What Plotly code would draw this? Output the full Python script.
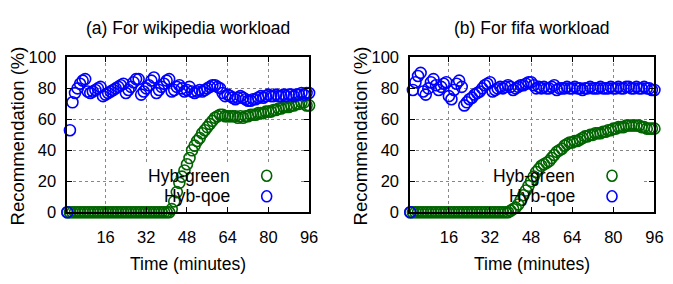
import plotly.graph_objects as go

# ---------------- data ----------------
minutes = list(range(1, 97))

wiki_green = [0]*40 + [
    0, 2, 7, 13, 19, 23, 27, 31, 35, 40,
    43, 46, 48, 51, 53, 55, 57, 59, 61, 62,
    63, 63, 62, 62, 62, 62, 62, 61, 62, 61,
    62, 62, 63, 63, 63, 64, 64, 64, 65, 65,
    65, 66, 66, 67, 67, 68, 68, 68, 69, 69,
    70, 70, 71, 71, 69, 69]

wiki_qoe = [
    0, 53, 71, 77, 80, 83, 85, 86, 78, 77,
    78, 79, 80, 81, 75, 76, 77, 78, 79, 80,
    81, 82, 83, 77, 79, 81, 84, 86, 86, 76,
    78, 80, 82, 85, 87, 77, 79, 81, 83, 85,
    86, 78, 79, 81, 82, 80, 78, 79, 81, 78,
    77, 78, 79, 78, 79, 80, 81, 82, 82, 81,
    80, 77, 75, 76, 75, 74, 73, 74, 75, 74,
    73, 72, 72, 73, 73, 74, 75, 74, 75, 76,
    75, 75, 76, 75, 75, 76, 75, 76, 76, 75,
    76, 76, 77, 76, 77, 77]

fifa_green = [0]*38 + [
    0, 1, 2, 3, 5, 8, 11, 14, 17, 20,
    23, 26, 28, 30, 31, 32, 33, 35, 37, 39,
    40, 41, 43, 44, 45, 45, 46, 46, 47, 48,
    49, 49, 50, 50, 51, 51, 51, 52, 52, 53,
    53, 54, 54, 55, 55, 55, 56, 56, 56, 56,
    56, 56, 55, 55, 54, 54, 54, 54]

fifa_qoe = [
    0, 79, 84, 88, 90, 78, 76, 80, 84, 86,
    82, 79, 81, 83, 84, 75, 73, 79, 83, 85,
    81, 69, 71, 73, 74, 76, 77, 78, 80, 82,
    83, 84, 78, 79, 80, 81, 80, 81, 82, 81,
    79, 80, 81, 82, 82, 83, 84, 84, 82, 80,
    81, 80, 81, 80, 80, 81, 82, 79, 80, 80,
    80, 81, 80, 80, 81, 80, 80, 79, 80, 80,
    81, 80, 80, 80, 81, 80, 80, 80, 81, 80,
    80, 81, 80, 80, 81, 81, 80, 80, 81, 80,
    80, 81, 80, 80, 79, 79]

x_ticks = [16, 32, 48, 64, 80, 96]
y_ticks = [0, 20, 40, 60, 80, 100]
titles = ["(a) For wikipedia workload", "(b) For fifa workload"]
series_names = ["Hyb-green", "Hyb-qoe"]
colors = ["#006400", "#0000ff"]

# ---------------- figure ----------------
W, H = 673, 284
FONT = "Liberation Sans"

def px(x):
    return x / W

def py(y):
    return (H - y) / H

fig = go.Figure()

panels = [(wiki_green, wiki_qoe, "x", "y"), (fifa_green, fifa_qoe, "x2", "y2")]
for g, q, xa, ya in panels:
    for vals, name, col in zip([g, q], series_names, colors):
        fig.add_trace(go.Scatter(
            x=minutes, y=vals, mode="markers", name=name, showlegend=False,
            xaxis=xa, yaxis=ya, cliponaxis=False, hoverinfo="skip",
            marker=dict(symbol="circle-open", size=11, color=col,
                        line=dict(width=1.6, color=col))))

axis_common = dict(
    showline=True, linecolor="black", linewidth=2, mirror="allticks",
    ticks="inside", ticklen=5, tickwidth=1, tickcolor="black",
    showgrid=True, gridcolor="#888888", gridwidth=1, griddash="dot",
    zeroline=False, tickfont=dict(family=FONT, size=16.5, color="black"),
)

ydom = [py(217), py(51.7)]
fig.update_layout(
    width=W, height=H, margin=dict(l=0, r=0, t=0, b=0),
    paper_bgcolor="white", plot_bgcolor="white", showlegend=False,
    hovermode=False,
    xaxis=dict(domain=[px(68.3), px(313.3)], range=[1, 96], tickvals=x_ticks,
               anchor="y", ticklabelstandoff=9, **axis_common),
    yaxis=dict(domain=ydom, range=[0, 100], tickvals=y_ticks, anchor="x",
               ticklabelstandoff=6, **axis_common),
    xaxis2=dict(domain=[px(415.9), px(663.3)], range=[1, 96], tickvals=x_ticks,
                anchor="y2", ticklabelstandoff=9, **axis_common),
    yaxis2=dict(domain=ydom, range=[0, 100], tickvals=y_ticks, anchor="x2",
                ticklabelstandoff=6, **axis_common),
)

# opaque key boxes (hide grid behind the key, like gnuplot)
key_boxes = [("x", "y", 24, 92), ("x2", "y2", 29.5, 91.3)]
for xr, yr, x0, x1 in key_boxes:
    fig.add_shape(type="rect", xref=xr, yref=yr, x0=x0, x1=x1, y0=0.6, y1=31,
                  fillcolor="white", line=dict(width=0), layer="between")

# titles, axis titles, key
panel_px = [(68.3, 313.3), (415.9, 663.3)]
for i, (l, r) in enumerate(panel_px):
    cx = (l + r) / 2
    fig.add_annotation(x=px(cx), y=py(20), xref="paper", yref="paper",
                       xanchor="center", yanchor="middle",
                       text=titles[i], showarrow=False,
                       font=dict(family=FONT, size=17.5, color="black"))
    fig.add_annotation(x=px(cx), y=py(272), xref="paper", yref="paper",
                       xanchor="center", yanchor="middle",
                       text="Time (minutes)", showarrow=False,
                       font=dict(family=FONT, size=17.5, color="black"))
    fig.add_annotation(x=px(l - 51), y=py(136), xref="paper", yref="paper",
                       xanchor="center", yanchor="middle",
                       text="Recommendation (%)", textangle=-90, showarrow=False,
                       font=dict(family=FONT, size=18.5, color="black"))
    for j, (name, col) in enumerate(zip(series_names, colors)):
        ky = 178 + 22 * j
        fig.add_annotation(x=px(r - 78), y=py(ky), xref="paper", yref="paper",
                           text=name, showarrow=False, xanchor="right",
                           yanchor="middle",
                           font=dict(family=FONT, size=17.5, color="black"))
        fig.add_shape(type="circle", xref="paper", yref="paper",
                      xsizemode="pixel", ysizemode="pixel",
                      xanchor=px(r - 43), yanchor=py(ky),
                      x0=-5, x1=5, y0=-5.5, y1=5.5,
                      line=dict(color=col, width=1.6))

# remove the default 8px page margin so the figure fills the window exactly
fig.write_html(
    "out.html",
    config={"displayModeBar": False, "staticPlot": True},
    post_script=("document.documentElement.style.margin='0';"
                 "document.body.style.margin='0';"
                 "document.documentElement.style.overflow='hidden';"
                 "document.body.style.overflow='hidden';"),
)
